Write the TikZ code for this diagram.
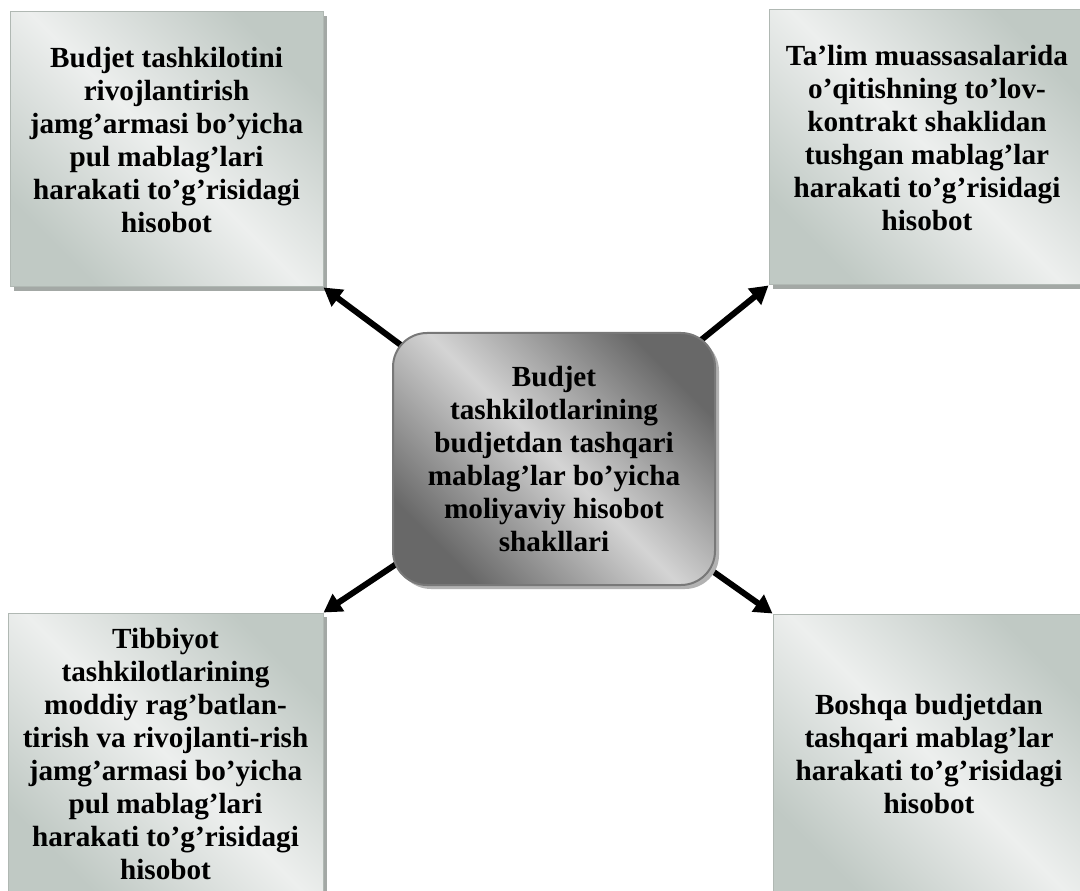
\documentclass[tikz,border=0pt]{standalone}
\usepackage{fontspec}
\setmainfont{Liberation Serif}
\usetikzlibrary{arrows.meta,shadows}

\definecolor{boxdark}{RGB}{192,201,196}
\definecolor{boxlight}{RGB}{237,239,238}
\definecolor{boxedge}{RGB}{176,184,179}
\definecolor{boxshadow}{RGB}{163,168,165}
\definecolor{hubdark}{RGB}{104,104,104}
\definecolor{hublight}{RGB}{212,212,212}
\definecolor{hubedge}{RGB}{120,120,120}
\definecolor{hubshadow}{RGB}{178,178,178}

\begin{document}
\begin{tikzpicture}[
  x=0.5pt, y=0.5pt,
  > = {Triangle[length=9pt,width=10pt]},
  txt/.style = {font=\bfseries\fontsize{14.6}{16.5}\selectfont, align=center},
  report/.style = {txt, draw=boxedge, line width=0.5pt,
    top color=boxdark, bottom color=boxdark, middle color=boxlight, shading angle=-45,
    drop shadow={fill=boxshadow, opacity=1, shadow xshift=2pt, shadow yshift=-2pt}},
  raised/.style = {text depth=10pt},
  hub/.style = {txt, draw=hubedge, line width=1pt, rounded corners=17pt,
    top color=hubdark, bottom color=hubdark, middle color=hublight, shading angle=-45,
    drop shadow={fill=hubshadow, opacity=1, shadow xshift=2pt, shadow yshift=-2pt},
    minimum width=161pt, minimum height=126pt},
  link/.style = {->, line width=3pt}
  ]
	\useasboundingbox (0,0) rectangle (1080,890);

	% the four reports
	\node[report, raised, minimum width=156.5pt, minimum height=137.5pt] (fund) at (166.5,740.5)
		{Budjet tashkilotini\\ rivojlantirish\\ jamg’armasi bo’yicha\\ pul mablag’lari\\ harakati to’g’risidagi\\ hisobot};
	\node[report, raised, minimum width=158pt, minimum height=137.5pt] (edu) at (927,742.5)
		{Ta’lim muassasalarida\\ o’qitishning to’lov-\\ kontrakt shaklidan\\ tushgan mablag’lar\\ harakati to’g’risidagi\\ hisobot};
	\node[report, minimum width=157.5pt, minimum height=141pt] (med) at (165.5,136)
		{Tibbiyot\\ tashkilotlarining\\ moddiy rag’batlan-\\ tirish va rivojlanti-rish\\ jamg’armasi bo’yicha\\ pul mablag’lari\\ harakati to’g’risidagi\\ hisobot};
	\node[report, minimum width=156pt, minimum height=140.5pt] (other) at (929,135.5)
		{Boshqa budjetdan\\ tashqari mablag’lar\\ harakati to’g’risidagi\\ hisobot};

	\coordinate (@hub) at (554,431);

	\draw[link] (@hub) -- (fund.south east);
	\draw[link] (@hub) -- (edu.south west);
	\draw[link] (@hub) -- (med.north east);
	\draw[link] (@hub) -- (other.north west);

	% the centre
	\node[hub] (forms) at (@hub)
		{Budjet\\ tashkilotlarining\\ budjetdan tashqari\\ mablag’lar bo’yicha\\ moliyaviy hisobot\\ shakllari};

\end{tikzpicture}
\end{document}
